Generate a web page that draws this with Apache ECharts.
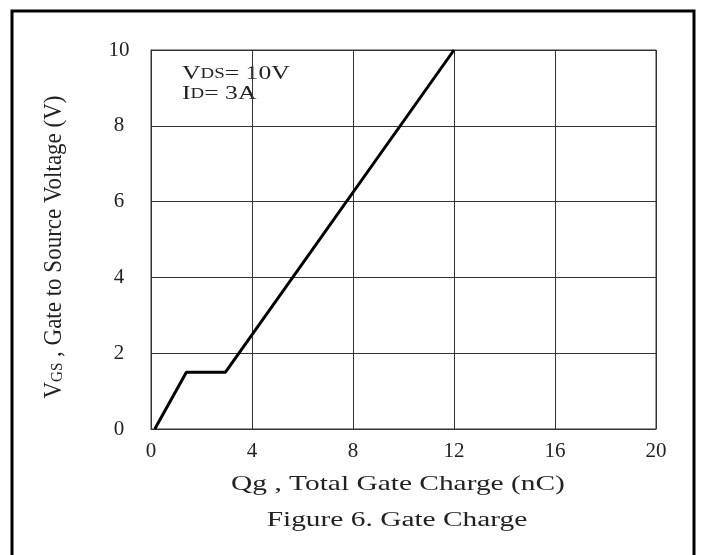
<!DOCTYPE html>
<html>
<head>
<meta charset="utf-8">
<script src="https://cdn.jsdelivr.net/npm/echarts@6/dist/echarts.min.js"></script>
<style>html,body{margin:0;padding:0;background:#fff;}#c{width:701px;height:555px;}</style>
</head>
<body>
<div id="c"></div>
<script>
// Data
var qg = [0.15, 1.4, 2.95, 12.0];      // Total gate charge (nC)
var vgs = [0, 1.5, 1.5, 10.0];         // Gate to source voltage (V)
var xTicks = [0, 4, 8, 12, 16, 20];
var yTicks = [0, 2, 4, 6, 8, 10];

var FONT = '"Liberation Serif", "DejaVu Serif", serif';
var INK = '#222';
var chart = echarts.init(document.getElementById('c'));
var pts = qg.map(function (q, i) { return [q, vgs[i]]; });

chart.setOption({
  backgroundColor: '#fff',
  animation: false,
  grid: { left: 151, right: 45, top: 50, bottom: 126, show: true, borderColor: '#333', borderWidth: 1 },
  xAxis: {
    type: 'value', min: xTicks[0], max: xTicks[xTicks.length - 1], interval: 4,
    axisLine: { lineStyle: { color: '#333', width: 1 } },
    axisTick: { show: false },
    axisLabel: { margin: 12, fontFamily: FONT, fontSize: 21, color: INK },
    splitLine: { show: true, lineStyle: { color: '#333', width: 1 } }
  },
  yAxis: {
    type: 'value', min: yTicks[0], max: yTicks[yTicks.length - 1], interval: 2,
    axisLine: { lineStyle: { color: '#333', width: 1 } },
    axisTick: { show: false },
    axisLabel: { margin: 32, align: 'center', fontFamily: FONT, fontSize: 21, color: INK },
    splitLine: { show: true, lineStyle: { color: '#333', width: 1 } }
  },
  graphic: [
    {
      type: 'rect', silent: true,
      shape: { x: 12, y: 11, width: 682, height: 560 },
      style: { fill: 'none', stroke: '#000', lineWidth: 3 }
    },
    {
      type: 'text', silent: true, x: 182, y: 64, scaleX: 1.35,
      style: {
        text: '{b|V}{s|DS}{b|= 10V}\n{b|I}{s|D}{b|= 3A}',
        font: '19px ' + FONT, fill: INK, lineHeight: 20,
        rich: {
          b: { fontFamily: FONT, fontSize: 19, fill: INK, lineHeight: 20 },
          s: { fontFamily: FONT, fontSize: 14, fill: INK, lineHeight: 20 }
        }
      }
    },
    {
      type: 'text', silent: true, x: 398, y: 484, scaleX: 1.4,
      style: {
        text: 'Qg , Total Gate Charge (nC)', font: '21px ' + FONT, fill: INK,
        align: 'center', verticalAlign: 'middle'
      }
    },
    {
      type: 'text', silent: true, x: 397, y: 521, scaleX: 1.47,
      style: {
        text: 'Figure 6. Gate Charge', font: '20px ' + FONT, fill: INK,
        align: 'center', verticalAlign: 'middle'
      }
    },
    {
      type: 'text', silent: true, x: 54, y: 247, rotation: Math.PI / 2, scaleY: 1.1,
      style: {
        text: '{v|V}{s|GS}{v| , Gate to Source Voltage (V)}',
        font: '23px ' + FONT, fill: INK, align: 'center', verticalAlign: 'middle',
        rich: {
          v: { fontFamily: FONT, fontSize: 23, fill: INK },
          s: { fontFamily: FONT, fontSize: 15, fill: INK, padding: [6, 0, 0, 0] }
        }
      }
    }
  ],
  series: [{
    type: 'line', data: pts, symbol: 'none',
    lineStyle: { color: '#000', width: 3 }
  }]
});
</script>
</body>
</html>
